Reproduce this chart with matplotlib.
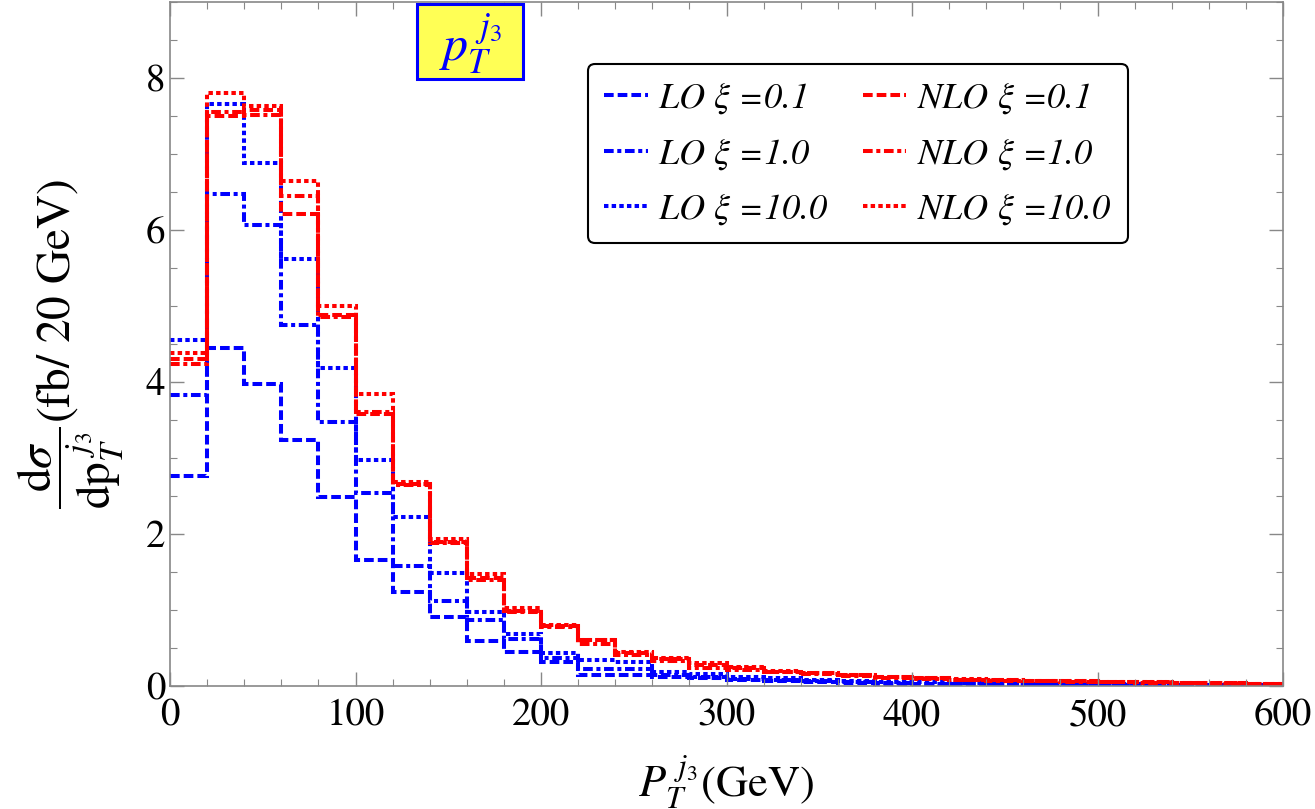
import numpy as np
import matplotlib
matplotlib.use("Agg")
import matplotlib.pyplot as plt
from matplotlib.ticker import MultipleLocator
from matplotlib.lines import Line2D
from matplotlib.patches import Rectangle

plt.rcParams['font.family'] = ['STIXGeneral', 'DejaVu Serif']
plt.rcParams['mathtext.fontset'] = 'stix'

# bin edges (GeV)
edges = np.arange(0, 620, 20)

lo_xi01 = [2.76, 4.45, 3.97, 3.24, 2.49, 1.66, 1.24, 0.91, 0.59, 0.45, 0.32, 0.15, 0.15, 0.12, 0.10,
           0.08, 0.07, 0.05, 0.04, 0.03, 0.03, 0.02, 0.02, 0.01, 0.01, 0.01, 0.01, 0.01, 0.01, 0.005]
lo_xi1 = [3.83, 6.47, 6.07, 4.75, 3.48, 2.54, 1.58, 1.12, 0.87, 0.62, 0.37, 0.23, 0.22, 0.14, 0.12,
          0.09, 0.08, 0.06, 0.05, 0.04, 0.03, 0.03, 0.02, 0.02, 0.02, 0.01, 0.01, 0.01, 0.01, 0.01]
lo_xi10 = [4.55, 7.66, 6.88, 5.62, 4.18, 2.98, 2.23, 1.49, 0.97, 0.69, 0.43, 0.34, 0.31, 0.19, 0.16,
           0.12, 0.10, 0.08, 0.07, 0.05, 0.05, 0.04, 0.03, 0.03, 0.02, 0.02, 0.02, 0.01, 0.01, 0.01]
nlo_xi01 = [4.30, 7.50, 7.58, 6.21, 4.88, 3.58, 2.66, 1.90, 1.42, 0.99, 0.79, 0.60, 0.43, 0.36, 0.27,
            0.24, 0.19, 0.17, 0.14, 0.12, 0.10, 0.08, 0.08, 0.07, 0.06, 0.05, 0.05, 0.04, 0.04, 0.03]
nlo_xi1 = [4.24, 7.55, 7.51, 6.45, 4.85, 3.60, 2.65, 1.88, 1.40, 0.98, 0.78, 0.55, 0.41, 0.33, 0.24,
           0.21, 0.18, 0.16, 0.13, 0.11, 0.09, 0.08, 0.07, 0.06, 0.05, 0.05, 0.04, 0.04, 0.03, 0.03]
nlo_xi10 = [4.38, 7.80, 7.63, 6.64, 5.00, 3.84, 2.68, 1.93, 1.48, 1.02, 0.80, 0.60, 0.45, 0.37, 0.30,
            0.25, 0.20, 0.17, 0.15, 0.12, 0.10, 0.09, 0.08, 0.07, 0.06, 0.05, 0.05, 0.04, 0.04, 0.03]

labels = [r"LO $\xi$ =0.1", r"LO $\xi$ =1.0", r"LO $\xi$ =10.0",
          r"NLO $\xi$ =0.1", r"NLO $\xi$ =1.0", r"NLO $\xi$ =10.0"]

dashed = (0, (2.4, 1.0))
dotdash = (0, (2.4, 0.9, 1.0, 0.9))
dotted = (0, (1.1, 0.8))

W, H = 1315, 809
fig = plt.figure(figsize=(W / 100, H / 100), dpi=100)
x0, x1, ytop, ybot = 170, 1283, 2, 686
ax = fig.add_axes([x0 / W, (H - ybot) / H, (x1 - x0) / W, (ybot - ytop) / H])

lw = 2.9
series = [(lo_xi01, 'blue', dashed), (lo_xi1, 'blue', dotdash), (lo_xi10, 'blue', dotted),
          (nlo_xi01, 'red', dashed), (nlo_xi1, 'red', dotdash), (nlo_xi10, 'red', dotted)]
for (vals, col, ls), lab in zip(series, labels):
    ax.stairs(vals, edges, baseline=None, color=col, linestyle=ls, linewidth=lw, label=lab)

ax.set_xlim(0, 600)
ax.set_ylim(0, 9.0)
ax.xaxis.set_major_locator(MultipleLocator(100))
ax.xaxis.set_minor_locator(MultipleLocator(20))
ax.yaxis.set_major_locator(MultipleLocator(2))
ax.yaxis.set_minor_locator(MultipleLocator(0.5))
ax.tick_params(which='both', direction='in', top=True, right=True, colors='#888888',
               labelcolor='black', labelsize=28)
ax.tick_params(axis='x', which='major', pad=9)
ax.tick_params(which='major', length=10, width=1)
ax.tick_params(which='minor', length=5, width=0.8)
for sp in ax.spines.values():
    sp.set_color('#888888')
    sp.set_linewidth(1.2)

ax.set_xlabel(r"$P_T^{\ j_3}$(GeV)", fontsize=32, labelpad=14)
ax.set_ylabel(r"$\dfrac{\mathrm{d}\sigma}{\mathrm{dp}_T^{\ j_3}}$(fb/ 20 GeV)", fontsize=34, labelpad=14)

# title box
bx0, bx1, by0, by1 = 417, 523, 4, 79
fig.patches.append(Rectangle((bx0 / W, 1 - by1 / H), (bx1 - bx0) / W, (by1 - by0) / H,
                             transform=fig.transFigure, facecolor='#ffff55', edgecolor='blue',
                             linewidth=2.2, zorder=5))
fig.text((bx0 + bx1) / 2 / W, 1 - 44 / H, r"$p_T^{\ j_3}$", fontsize=36, color='blue',
         ha='center', va='center', zorder=6)

leg_handles = [Line2D([], [], color=c, linestyle=ls, linewidth=lw) for (_, c, ls) in series]
leg = ax.legend(leg_handles, labels, ncol=2, loc='upper left',
                bbox_to_anchor=((588 - x0) / (x1 - x0), (ybot - 64) / (ybot - ytop)), borderaxespad=0,
                prop={'size': 26, 'style': 'italic'}, frameon=True, fancybox=True,
                edgecolor='black', handlelength=1.2, handletextpad=0.3, columnspacing=0.95,
                labelspacing=0.55, borderpad=0.45)
leg.get_frame().set_linewidth(1.5)
leg.get_frame().set_alpha(1)

fig.savefig("out.png", dpi=100)
